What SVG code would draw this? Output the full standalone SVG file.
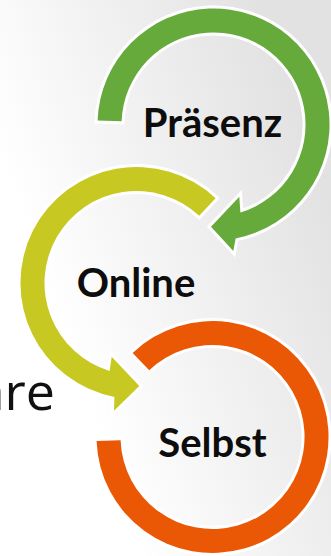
<svg xmlns="http://www.w3.org/2000/svg" width="331" height="556" viewBox="0 0 331 556">
  <defs>
    <linearGradient id="bg" gradientUnits="userSpaceOnUse" x1="50" y1="300" x2="331" y2="200">
      <stop offset="0" stop-color="#ffffff"/>
      <stop offset="1" stop-color="#e2e2e2"/>
    </linearGradient>
  </defs>
  <style>
    .arc { stroke: #ffffff; stroke-width: 6; stroke-linejoin: miter; paint-order: stroke; }
    .label { font-family: Lato, "Open Sans", "DejaVu Sans", sans-serif; font-weight: bold; font-size: 40px; fill: #0d0d0d; text-anchor: middle; }
    .side { font-family: "Open Sans", "Noto Sans", sans-serif; font-size: 52px; fill: #111111; text-anchor: end; }
  </style>
  <rect x="0" y="0" width="331" height="556" fill="url(#bg)"/>
  <text class="side" x="55" y="410">are</text>
  <g id="node-selbst">
    <path class="arc" fill="#ea5806" d="M 132.65,352.9 A 116,116 0 1 1 96.6,441 L 120.6,440.2 A 92,92 0 1 0 149.2,370.3 Z"/>
    <text class="label" x="212.5" y="457">Selbst</text>
  </g>
  <g id="node-online">
    <path class="arc" fill="#c8c822" d="M 215.6,198.2 A 116,116 0 1 0 114.4,396.9 L 114,410.7 L 139.3,386 L 111.7,356.7 L 109.6,371 A 92,92 0 1 1 199.2,215.7 Z"/>
    <text class="label" x="136" y="297">Online</text>
  </g>
  <g id="node-praesenz">
    <path class="arc" fill="#66aa3c" d="M 97.6,120.5 A 116,116 0 1 1 235.6,238.4 L 233.3,251 L 211,226.7 L 239.3,196.7 L 240.4,212.5 A 92,92 0 1 0 121.6,121.3 Z"/>
    <text class="label" x="212.5" y="137">Präsenz</text>
  </g>
  <g id="connectors"/>
</svg>
